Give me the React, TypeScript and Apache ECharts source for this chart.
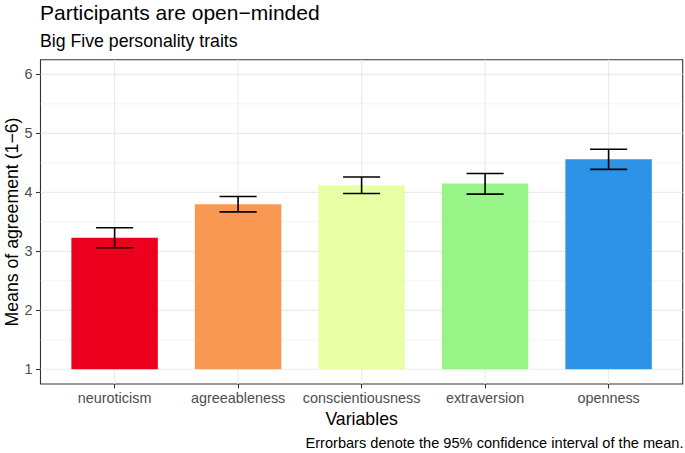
import React, { useEffect, useRef } from "react";
import * as echarts from "echarts";

const categories = ["neuroticism", "agreeableness", "conscientiousness", "extraversion", "openness"];
const means = [3.23, 3.8, 4.12, 4.15, 4.56];
const ciLower = [3.06, 3.67, 3.98, 3.97, 4.39];
const ciUpper = [3.4, 3.93, 4.26, 4.32, 4.73];
const barColors = ["#EC001D", "#F89853", "#E9FFA3", "#97F587", "#2C93E6"];
const xPositions = [1, 2, 3, 4, 5];
const yTicks = [1, 2, 3, 4, 5, 6];
const yMinorGrid = [1.5, 2.5, 3.5, 4.5, 5.5];

const FONT = "'Liberation Sans', Arial, sans-serif";
const X_MIN = 0.4;
const X_MAX = 5.6;
const Y_MIN = 0.75;
const Y_MAX = 6.25;

export default function App() {
  const ref = useRef<HTMLDivElement>(null);

  useEffect(() => {
    if (!ref.current) return;
    const chart = echarts.init(ref.current, undefined, { renderer: "svg" });

    const gridData: any[] = [
      ...yTicks.map((v) => ["h", v, 1.2]),
      ...yMinorGrid.map((v) => ["h", v, 0.6]),
      ...xPositions.map((v) => ["v", v, 1.2]),
    ];

    const option: any = {
      animation: false,
      backgroundColor: "#ffffff",
      textStyle: { fontFamily: FONT },
      title: [
        {
          text: "Participants are open\u2212minded",
          left: 40,
          top: 2,
          padding: 0,
          textStyle: { fontSize: 21, fontWeight: "normal", color: "#000000", fontFamily: FONT },
        },
        {
          text: "Big Five personality traits",
          left: 40,
          top: 32,
          padding: 0,
          textStyle: { fontSize: 17.7, fontWeight: "normal", color: "#000000", fontFamily: FONT },
        },
      ],
      grid: {
        left: 40.5,
        right: 2.3,
        top: 59.7,
        bottom: 69,
        show: true,
        borderColor: "#333333",
        borderWidth: 1.1,
        backgroundColor: "transparent",
        containLabel: false,
        outerBoundsMode: "none",
      },
      xAxis: {
        type: "value",
        min: X_MIN,
        max: X_MAX,
        name: "Variables",
        nameLocation: "middle",
        nameGap: 23,
        nameTextStyle: { fontSize: 17.7, color: "#000000", fontFamily: FONT },
        axisLine: { show: false },
        splitLine: { show: false },
        axisTick: {
          show: true,
          length: 4.5,
          customValues: xPositions,
          lineStyle: { color: "#333333", width: 1.1 },
        },
        axisLabel: {
          customValues: xPositions,
          margin: 7,
          fontSize: 14.4,
          color: "#4D4D4D",
          fontFamily: FONT,
          formatter: (v: number) => categories[Math.round(v) - 1] ?? "",
        },
      },
      yAxis: {
        type: "value",
        min: Y_MIN,
        max: Y_MAX,
        axisLine: { show: false },
        splitLine: { show: false },
        axisTick: {
          show: true,
          length: 4.5,
          customValues: yTicks,
          lineStyle: { color: "#333333", width: 1.1 },
        },
        axisLabel: {
          customValues: yTicks,
          margin: 8,
          fontSize: 14.4,
          color: "#4D4D4D",
          fontFamily: FONT,
          formatter: (v: number) => String(Math.round(v)),
        },
      },
      graphic: [
        {
          type: "text",
          x: 11.5,
          y: 222,
          rotation: Math.PI / 2,
          style: {
            text: "Means of agreement (1\u22126)",
            fontSize: 17.7,
            fill: "#000000",
            fontFamily: FONT,
            align: "center",
            verticalAlign: "middle",
          },
        },
        {
          type: "text",
          right: 1.5,
          top: 435,
          style: {
            text: "Errorbars denote the 95% confidence interval of the mean.",
            fontSize: 14.6,
            fill: "#000000",
            fontFamily: FONT,
          },
        },
      ],
      series: [
        {
          type: "custom",
          name: "grid",
          silent: true,
          z: 0,
          data: gridData,
          renderItem: (params: any, api: any) => {
            const kind = gridData[params.dataIndex][0];
            const v = gridData[params.dataIndex][1];
            const w = gridData[params.dataIndex][2];
            let p0, p1;
            if (kind === "h") {
              p0 = api.coord([X_MIN, v]);
              p1 = api.coord([X_MAX, v]);
            } else {
              p0 = api.coord([v, Y_MIN]);
              p1 = api.coord([v, Y_MAX]);
            }
            return {
              type: "line",
              shape: { x1: p0[0], y1: p0[1], x2: p1[0], y2: p1[1] },
              style: { stroke: "#EBEBEB", lineWidth: w },
            };
          },
        },
        {
          type: "custom",
          name: "means",
          z: 2,
          data: categories.map((c, i) => [xPositions[i], means[i]]),
          renderItem: (params: any, api: any) => {
            const x = api.value(0);
            const y = api.value(1);
            const a = api.coord([x - 0.35, 1]);
            const b = api.coord([x + 0.35, y]);
            return {
              type: "rect",
              shape: { x: a[0], y: b[1], width: b[0] - a[0], height: a[1] - b[1] },
              style: { fill: barColors[params.dataIndex] },
            };
          },
        },
        {
          type: "custom",
          name: "ci",
          z: 3,
          data: categories.map((c, i) => [xPositions[i], ciLower[i], ciUpper[i]]),
          renderItem: (params: any, api: any) => {
            const x = api.value(0);
            const lo = api.value(1);
            const hi = api.value(2);
            const pl0 = api.coord([x - 0.15, lo]);
            const pl1 = api.coord([x + 0.15, lo]);
            const ph0 = api.coord([x - 0.15, hi]);
            const ph1 = api.coord([x + 0.15, hi]);
            const style = { stroke: "#000000", lineWidth: 1.6 };
            return {
              type: "group",
              children: [
                { type: "line", shape: { x1: pl0[0], y1: pl0[1], x2: pl1[0], y2: pl1[1] }, style },
                { type: "line", shape: { x1: ph0[0], y1: ph0[1], x2: ph1[0], y2: ph1[1] }, style },
                {
                  type: "line",
                  shape: { x1: (pl0[0] + pl1[0]) / 2, y1: pl0[1], x2: (ph0[0] + ph1[0]) / 2, y2: ph0[1] },
                  style,
                },
              ],
            };
          },
        },
      ],
    };

    chart.setOption(option);
    return () => chart.dispose();
  }, []);

  return <div ref={ref} style={{ width: 685, height: 453, position: "absolute", left: 0, top: 0 }} />;
}
